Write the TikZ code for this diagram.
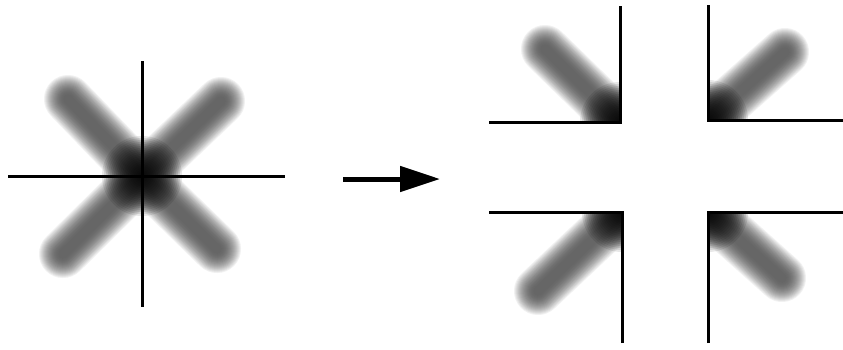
\documentclass[tikz,border=0pt]{standalone}
\usetikzlibrary{arrows.meta}
\begin{document}
\begin{tikzpicture}[x=1pt,y=-1pt,
  axis/.style={line width=3pt},
  glow/.style={line cap=round}]
\useasboundingbox (0,0) rectangle (843,349);
% left: blurred cross on the axes
\coordinate (c) at (142,176);
\foreach \i [evaluate=\i as \w using 50-2*\i, evaluate=\i as \g using 60*(1-((44-2*\i)/44)^2)] in {0,...,22} {
  \foreach \tx/\ty in {68/99,221/101,63/254,217/249}
    \draw[glow, line width=\w pt, black!\g] (c) -- (\tx,\ty);
}
\foreach \r in {40,38,...,2}
  \fill[black, opacity=0.09] (c) circle (\r pt);
\draw[axis] (8,176) -- (285,176);
\draw[axis] (142,61) -- (142,307);
% arrow
\coordinate (from) at (343,179);
\coordinate (to) at (440,179);
\draw[line width=5pt, -{Triangle[length=40pt,width=25pt]}] (from) -- (to);
% right: the four corners
\foreach \cx/\cy/\tx/\ty/\vy/\hx in {620/122/545/49/6/489, 708/120/785/52/5/843,
    622/212/538/291/343/489, 708/212/782/278/343/843} {
  \begin{scope}
    \clip (\cx,\cy) rectangle ({3*\tx-2*\cx},{3*\ty-2*\cy});
    \foreach \i [evaluate=\i as \w using 50-2*\i, evaluate=\i as \g using 60*(1-((44-2*\i)/44)^2)] in {0,...,22}
      \draw[glow, line width=\w pt, black!\g] (\cx,\cy) -- (\tx,\ty);
    \foreach \r in {40,38,...,2}
      \fill[black, opacity=0.09] (\cx,\cy) circle (\r pt);
  \end{scope}
  \draw[axis] (\cx,\vy) -- (\cx,\cy) -- (\hx,\cy);
}
\end{tikzpicture}
\end{document}
